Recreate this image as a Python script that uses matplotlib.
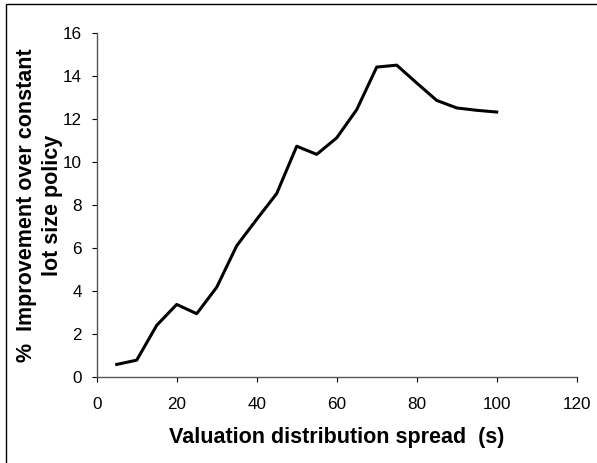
import matplotlib
matplotlib.use('Agg')
import matplotlib.pyplot as plt
from matplotlib.patches import Rectangle

# Data
spread = [5, 10, 15, 20, 25, 30, 35, 40, 45, 50, 55, 60, 65, 70, 75, 80, 85, 90, 95, 100]
improvement = [0.6, 0.8, 2.42, 3.39, 2.96, 4.19, 6.12, 7.35, 8.55, 10.75, 10.37, 11.14,
               12.45, 14.43, 14.52, 13.69, 12.88, 12.53, 12.42, 12.34]
x_ticks = [0, 20, 40, 60, 80, 100, 120]
y_ticks = [0, 2, 4, 6, 8, 10, 12, 14, 16]

plt.rcParams['font.family'] = ['Liberation Sans', 'DejaVu Sans']

fig = plt.figure(figsize=(5.97, 4.63), dpi=100)
ax = fig.add_axes([0.162, 0.185, 0.804, 0.743])

ax.plot(spread, improvement, color='black', linewidth=2.2)

ax.set_xlim(0, 120)
ax.set_ylim(0, 16)
ax.set_xticks(x_ticks)
ax.set_yticks(y_ticks)
ax.tick_params(direction='out', length=3.6, width=0.8, labelsize=12.3, colors='black')
ax.tick_params(axis='x', pad=10.5)
ax.tick_params(axis='y', pad=7)

for side in ['top', 'right']:
    ax.spines[side].set_visible(False)
for side in ['left', 'bottom']:
    ax.spines[side].set_color('#555555')
    ax.spines[side].set_linewidth(1.0)

ax.set_xlabel('Valuation distribution spread  (s)', fontsize=15.5, fontweight='bold', labelpad=11)
ax.set_ylabel('%  Improvement over constant\nlot size policy', fontsize=15.5, fontweight='bold',
              labelpad=0, linespacing=1.3)

# outer chart-area frame (only left and top edges visible in the picture)
fig.patches.append(Rectangle((6 / 597, -0.05), 1.2, 1 - 4 / 463 + 0.05, transform=fig.transFigure,
                             fill=False, edgecolor='black', linewidth=1.0))

fig.savefig('out.png', dpi=100)
